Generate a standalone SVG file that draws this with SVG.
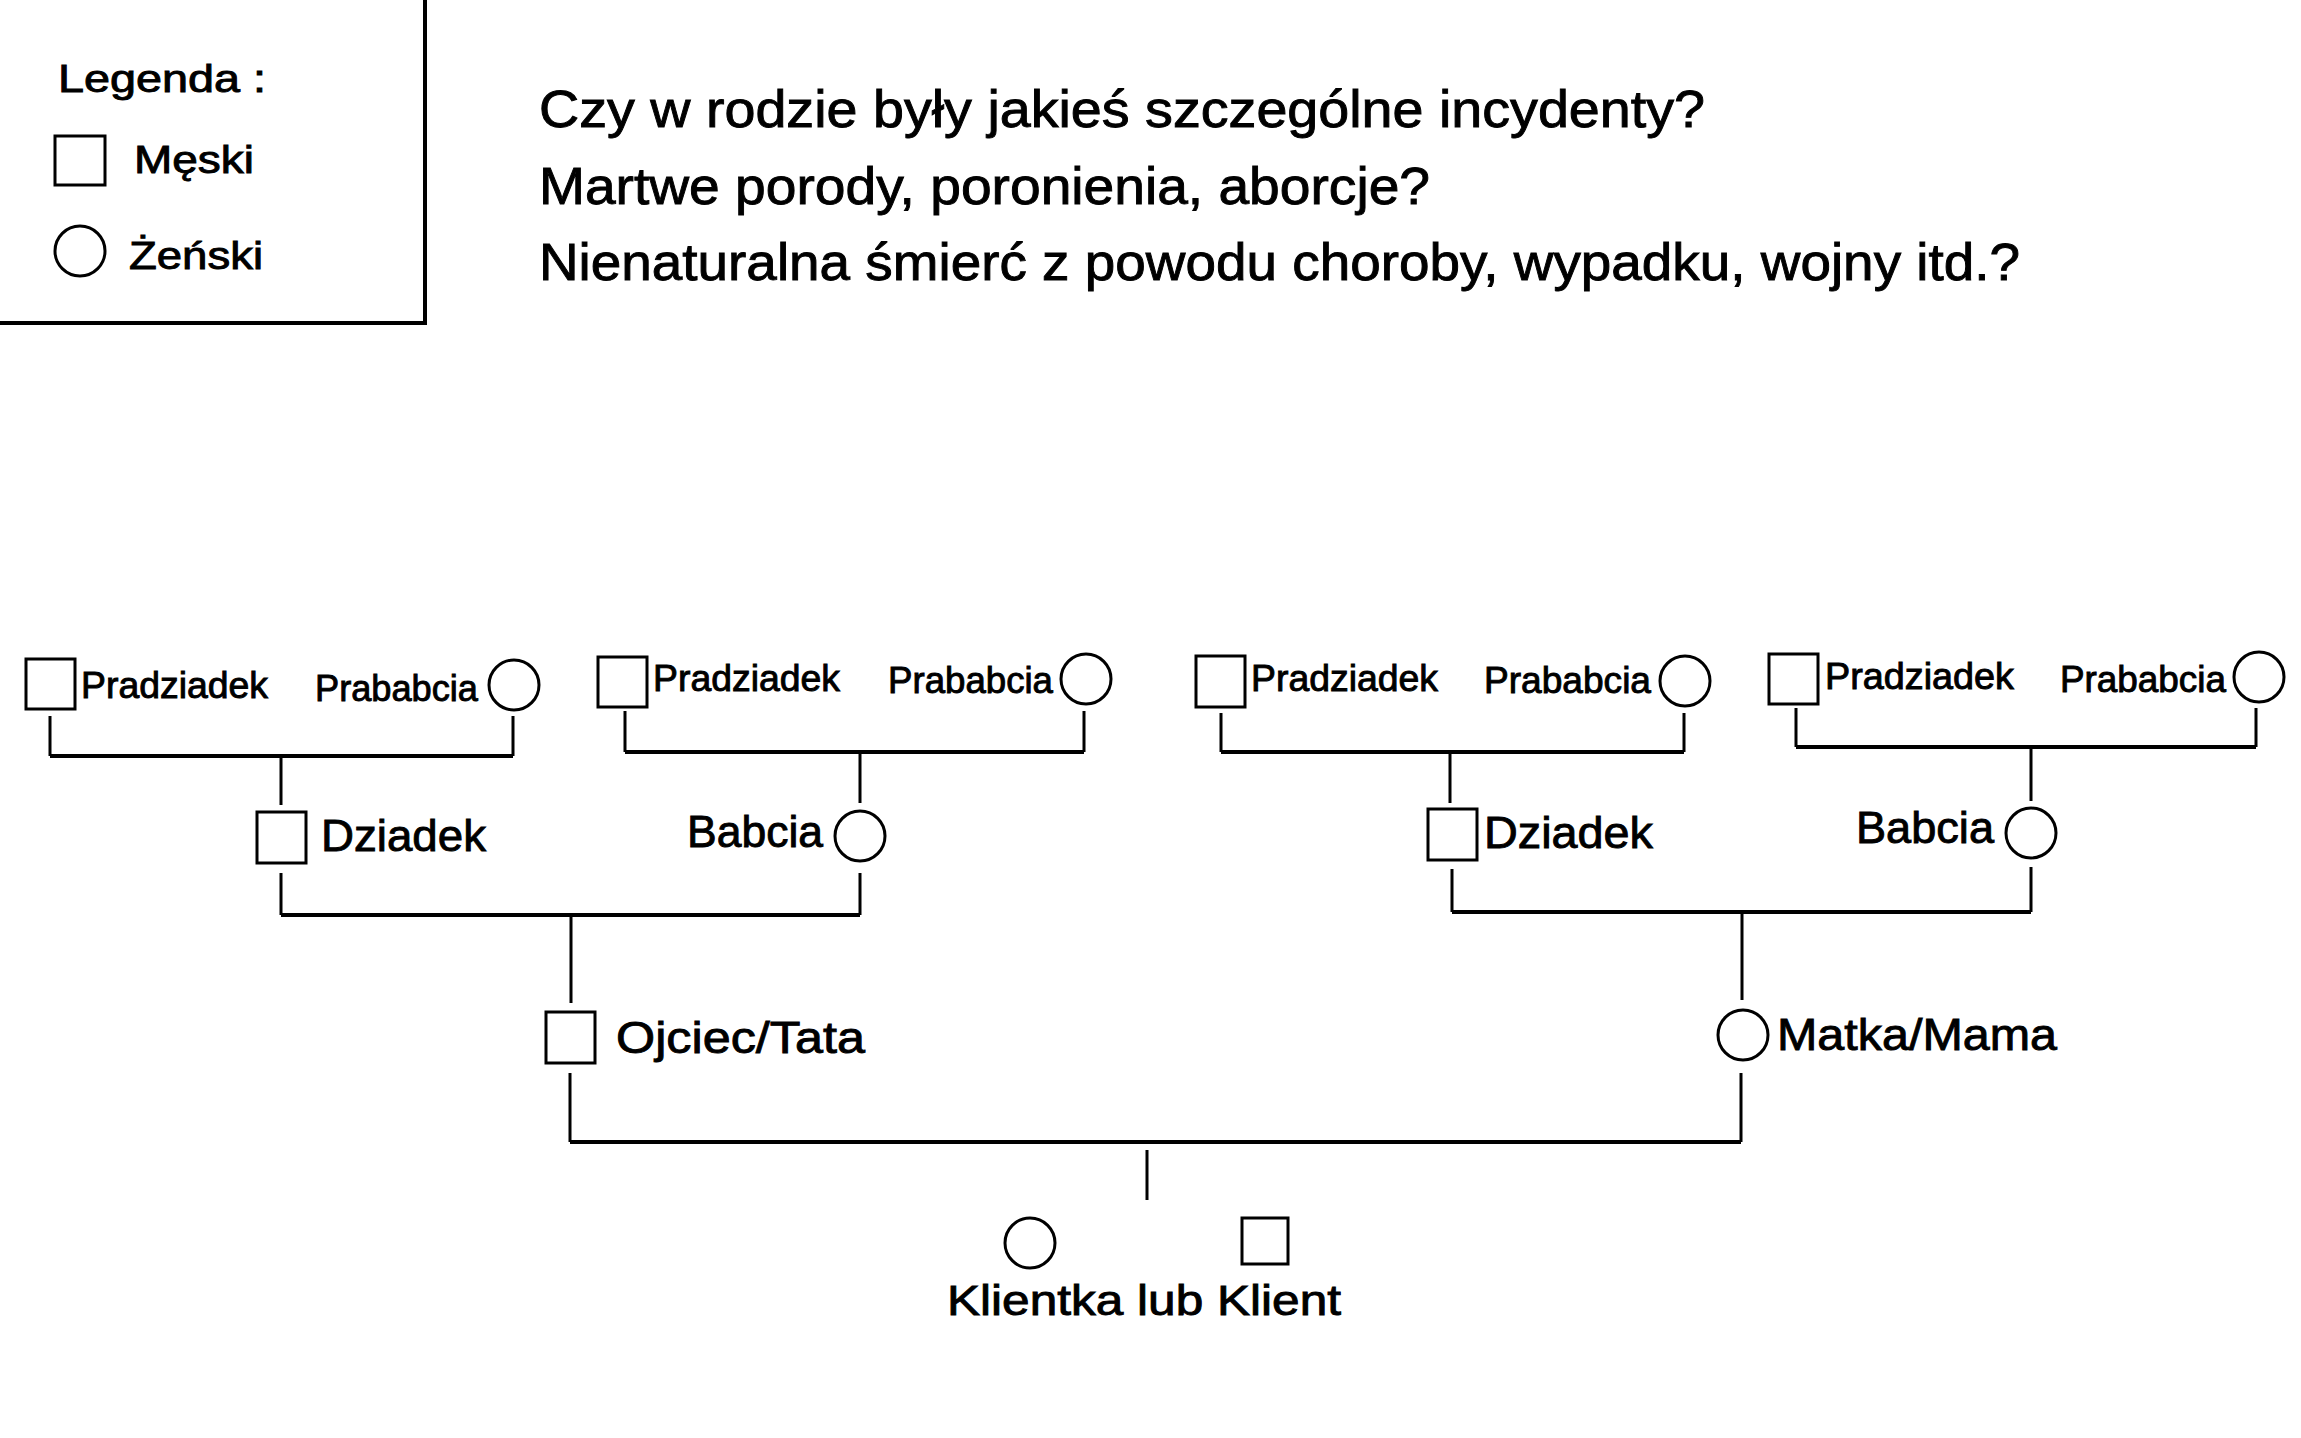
<svg xmlns="http://www.w3.org/2000/svg" width="2301" height="1438" viewBox="0 0 2301 1438">
<style>
text{font-family:"Liberation Sans","DejaVu Sans",sans-serif;fill:#000;stroke:#000;stroke-width:0.9}
.sh{fill:#fff;stroke:#000;stroke-width:3}
.ln{stroke:#000;stroke-width:3;fill:none}
.bar{stroke:#000;stroke-width:4;fill:none}
.s{font-size:36px}
.m{font-size:45px}
.q{font-size:52px}
.lg{font-size:38px}
</style>
<rect width="2301" height="1438" fill="#fff"/>
<g id="legend">
<rect x="-10" y="-10" width="435" height="333" fill="none" stroke="#000" stroke-width="4"/>
<text class="lg" x="58" y="92" textLength="208" lengthAdjust="spacingAndGlyphs">Legenda :</text>
<rect class="sh" x="55" y="136" width="50" height="49"/>
<text class="lg" x="134" y="173" textLength="120" lengthAdjust="spacingAndGlyphs">Męski</text>
<circle class="sh" cx="80" cy="251" r="25"/>
<text class="lg" x="129" y="269" textLength="134" lengthAdjust="spacingAndGlyphs">Żeński</text>
</g>
<g id="questions">
<text class="q" x="539" y="127" textLength="1166" lengthAdjust="spacingAndGlyphs">Czy w rodzie były jakieś szczególne incydenty?</text>
<text class="q" x="539" y="204" textLength="891" lengthAdjust="spacingAndGlyphs">Martwe porody, poronienia, aborcje?</text>
<text class="q" x="539" y="280" textLength="1481" lengthAdjust="spacingAndGlyphs">Nienaturalna śmierć z powodu choroby, wypadku, wojny itd.?</text>
</g>
<g id="connectors">
<path class="ln" d="M50 716V756M513 716V756M281 756V805"/>
<path class="bar" d="M50 756H513"/>
<path class="ln" d="M625 711V752M1084 711V752M860 752V803"/>
<path class="bar" d="M625 752H1084"/>
<path class="ln" d="M281 873V915M860 873V915M571 915V1003"/>
<path class="bar" d="M281 915H860"/>
<path class="ln" d="M1221 713V752M1684 713V752M1450 752V803"/>
<path class="bar" d="M1221 752H1684"/>
<path class="ln" d="M1796 708V747M2256 708V747M2031 747V801"/>
<path class="bar" d="M1796 747H2256"/>
<path class="ln" d="M1452 869V912M2031 867V912M1742 912V1000"/>
<path class="bar" d="M1452 912H2031"/>
<path class="ln" d="M570 1073V1142M1741 1073V1142M1147 1150V1200"/>
<path class="bar" d="M570 1142H1741"/>
</g>
<g id="pradziadek1"><rect class="sh" x="26" y="659" width="49" height="50"/><text class="s" x="81" y="698" textLength="187" lengthAdjust="spacingAndGlyphs">Pradziadek</text></g>
<g id="prababcia1"><circle class="sh" cx="514" cy="685" r="25"/><text class="s" x="315" y="701" textLength="163" lengthAdjust="spacingAndGlyphs">Prababcia</text></g>
<g id="pradziadek2"><rect class="sh" x="598" y="657" width="49" height="50"/><text class="s" x="653" y="691" textLength="187" lengthAdjust="spacingAndGlyphs">Pradziadek</text></g>
<g id="prababcia2"><circle class="sh" cx="1086" cy="679" r="25"/><text class="s" x="888" y="693" textLength="165" lengthAdjust="spacingAndGlyphs">Prababcia</text></g>
<g id="pradziadek3"><rect class="sh" x="1196" y="656" width="49" height="51"/><text class="s" x="1251" y="691" textLength="187" lengthAdjust="spacingAndGlyphs">Pradziadek</text></g>
<g id="prababcia3"><circle class="sh" cx="1685" cy="681" r="25"/><text class="s" x="1484" y="693" textLength="167" lengthAdjust="spacingAndGlyphs">Prababcia</text></g>
<g id="pradziadek4"><rect class="sh" x="1769" y="654" width="49" height="50"/><text class="s" x="1825" y="689" textLength="189" lengthAdjust="spacingAndGlyphs">Pradziadek</text></g>
<g id="prababcia4"><circle class="sh" cx="2259" cy="677" r="25"/><text class="s" x="2060" y="692" textLength="166" lengthAdjust="spacingAndGlyphs">Prababcia</text></g>
<g id="dziadek1"><rect class="sh" x="257" y="812" width="49" height="51"/><text class="m" x="321" y="851" textLength="165" lengthAdjust="spacingAndGlyphs">Dziadek</text></g>
<g id="babcia1"><circle class="sh" cx="860" cy="836" r="25"/><text class="m" x="687" y="847" textLength="136" lengthAdjust="spacingAndGlyphs">Babcia</text></g>
<g id="dziadek2"><rect class="sh" x="1428" y="809" width="49" height="51"/><text class="m" x="1484" y="848" textLength="169" lengthAdjust="spacingAndGlyphs">Dziadek</text></g>
<g id="babcia2"><circle class="sh" cx="2031" cy="833" r="25"/><text class="m" x="1856" y="843" textLength="138" lengthAdjust="spacingAndGlyphs">Babcia</text></g>
<g id="ojciec"><rect class="sh" x="546" y="1012" width="49" height="51"/><text class="m" x="616" y="1053" textLength="249" lengthAdjust="spacingAndGlyphs">Ojciec/Tata</text></g>
<g id="matka"><circle class="sh" cx="1743" cy="1035" r="25"/><text class="m" x="1777" y="1050" textLength="280" lengthAdjust="spacingAndGlyphs">Matka/Mama</text></g>
<g id="klient">
<circle class="sh" cx="1030" cy="1243" r="25"/>
<rect class="sh" x="1242" y="1218" width="46" height="46"/>
<text style="font-size:42px" x="947" y="1315" textLength="394" lengthAdjust="spacingAndGlyphs">Klientka lub Klient</text>
</g>
</svg>
